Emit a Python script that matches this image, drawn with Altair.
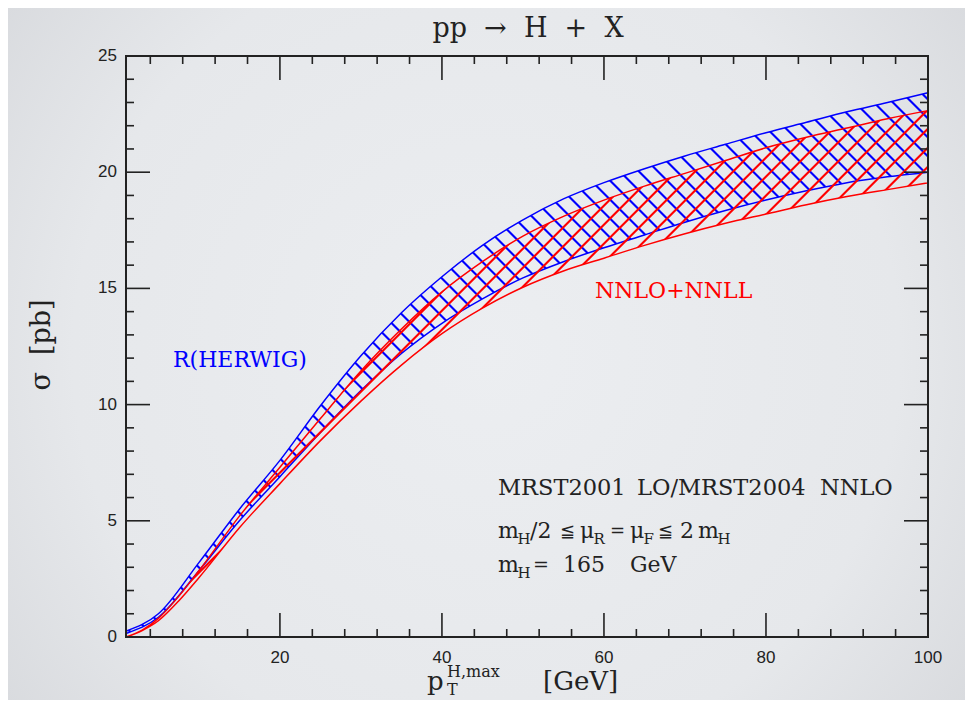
import altair as alt
import pandas as pd

# ---------------- data ----------------
x_herwig = [1, 5, 10, 15, 20, 25, 30, 35, 40, 45, 50, 55, 60, 65, 70, 75, 80, 85, 90, 95, 100]
herwig_hi = [0.25, 1.0, 3.2, 5.5, 7.6, 9.95, 12.1, 13.95, 15.5, 16.85, 17.95, 18.85, 19.55,
             20.15, 20.7, 21.2, 21.7, 22.15, 22.6, 23.0, 23.42]
herwig_lo = [0.15, 0.85, 2.85, 5.0, 6.9, 8.8, 10.6, 12.2, 13.5, 14.55, 15.45, 16.15, 16.75,
             17.3, 17.85, 18.35, 18.8, 19.2, 19.55, 19.8, 20.0]

x_nnll = [1, 3, 5, 7.5, 10, 15, 20, 25, 30, 35, 40, 45, 50, 55, 60, 65, 70, 75, 80, 85, 90, 95, 100]
nnll_hi = [0.0, 0.3, 0.8, 1.75, 2.85, 5.2, 7.3, 9.4, 11.45, 13.25, 14.85, 16.15, 17.25, 18.1,
           18.8, 19.4, 19.95, 20.5, 21.05, 21.5, 21.9, 22.3, 22.65]
nnll_lo = [0.0, 0.28, 0.7, 1.55, 2.55, 4.7, 6.6, 8.45, 10.15, 11.7, 13.05, 14.15, 15.05, 15.75,
           16.3, 16.85, 17.35, 17.8, 18.2, 18.6, 18.95, 19.25, 19.54]

x_tick_labels = [20, 40, 60, 80, 100]
y_tick_labels = [0, 5, 10, 15, 20, 25]
x_major = [20, 40, 60, 80]
x_minor = [v for v in range(4, 100, 4) if v % 20]
y_major = [5, 10, 15, 20]
y_minor = [v for v in range(1, 25) if v % 5]

# ---------------- layout ----------------
W, H = 802, 581
PAD = {"left": 118, "top": 48, "right": 37, "bottom": 63}
XDOM = [1, 100]
YDOM = [0, 25]
BLUE = "#0000ff"
RED = "#ff0000"
INK = "#222222"
SERIF = "DejaVu Serif"
SANS = "Liberation Sans"
SP = "\u00a0\u00a0"   # wide gap (plain spaces collapse in SVG text)

xs = alt.Scale(domain=XDOM, nice=False, zero=False)
ys = alt.Scale(domain=YDOM, nice=False, zero=False)


def hatch(color, clear, lo_vals, hi_vals, direction, period=19.0, full=1.0, soft=2.0, phase=6.0):
    """Linear gradient made of thin stripes at 45 degrees (pixel space)."""
    bw = float(W)
    bh = (max(hi_vals) - min(lo_vals)) * H / (YDOM[1] - YDOM[0])
    span = bw + bh
    k = span / (bw ** 2 + bh ** 2)
    if direction == "back":   # "\" stripes
        x1, y1, x2, y2 = 0.0, 1.0, k * bw, 1.0 - k * bh
    else:                     # "/" stripes
        x1, y1, x2, y2 = 0.0, 0.0, k * bw, k * bh
    stops = []
    c = phase
    while c - soft < span:
        for off, col in ((c - soft, clear), (c - full, color), (c + full, color), (c + soft, clear)):
            t = min(max(off / span, 0.0), 1.0)
            stops.append(alt.GradientStop(offset=t, color=col))
        c += period
    return alt.LinearGradient(gradient="linear", stops=stops, x1=x1, y1=y1, x2=x2, y2=y2)


one = pd.DataFrame({"k": [0]})

# background with a soft vignette
bg = alt.Chart(one).mark_rect(
    fill=alt.RadialGradient(
        gradient="radial", x1=0.5, y1=0.5, r1=0, x2=0.5, y2=0.5, r2=0.72,
        stops=[alt.GradientStop(offset=0, color="#eceef1"),
               alt.GradientStop(offset=0.6, color="#e6e8eb"),
               alt.GradientStop(offset=1, color="#d2d4d8")]),
).encode(x=alt.value(-PAD["left"]), x2=alt.value(W + PAD["right"]),
         y=alt.value(-PAD["top"]), y2=alt.value(H + PAD["bottom"]))

herwig_df = pd.DataFrame({"x": x_herwig, "hi": herwig_hi, "lo": herwig_lo})
nnll_df = pd.DataFrame({"x": x_nnll, "hi": nnll_hi, "lo": nnll_lo})

herwig = alt.Chart(herwig_df).mark_area(
    fill=hatch(BLUE, "rgba(0,0,255,0)", herwig_lo, herwig_hi, "back"),
    stroke=BLUE, strokeWidth=1.5, interpolate="monotone",
).encode(
    x=alt.X("x:Q", scale=xs, axis=None),
    y=alt.Y("hi:Q", scale=ys, axis=None),
    y2="lo:Q",
)

nnll = alt.Chart(nnll_df).mark_area(
    fill=hatch(RED, "rgba(255,0,0,0)", nnll_lo, nnll_hi, "fwd", phase=3.0),
    stroke=RED, strokeWidth=1.5, interpolate="monotone",
).encode(
    x=alt.X("x:Q", scale=xs, axis=None),
    y=alt.Y("hi:Q", scale=ys, axis=None),
    y2="lo:Q",
)


def xticks(vals, length):
    df = pd.DataFrame({"v": vals})
    base = alt.Chart(df).mark_rule(color=INK, strokeWidth=1.6)
    xe = alt.X("v:Q", scale=xs, axis=None)
    return [base.encode(x=xe, y=alt.value(H), y2=alt.value(H - length)),
            base.encode(x=xe, y=alt.value(0), y2=alt.value(length))]


def yticks(vals, length):
    df = pd.DataFrame({"v": vals})
    base = alt.Chart(df).mark_rule(color=INK, strokeWidth=1.6)
    ye = alt.Y("v:Q", scale=ys, axis=None)
    return [base.encode(y=ye, x=alt.value(0), x2=alt.value(length)),
            base.encode(y=ye, x=alt.value(W), x2=alt.value(W - length))]


ticks = xticks(x_minor, 8) + xticks(x_major, 24) + yticks(y_minor, 8) + yticks(y_major, 24)

# tick labels, placed through the scales
xlab = alt.Chart(pd.DataFrame({"v": x_tick_labels})).mark_text(
    font=SANS, fontSize=17, color=INK, align="center", baseline="alphabetic",
).encode(x=alt.X("v:Q", scale=xs, axis=None), y=alt.value(H + 26), text="v:Q")
ylab = alt.Chart(pd.DataFrame({"v": y_tick_labels})).mark_text(
    font=SANS, fontSize=17, color=INK, align="right", baseline="middle",
).encode(y=alt.Y("v:Q", scale=ys, axis=None), x=alt.value(-9), text="v:Q")

frame = alt.Chart(one).mark_rect(filled=False, stroke=INK, strokeWidth=2).encode(
    x=alt.value(0), x2=alt.value(W), y=alt.value(0), y2=alt.value(H))


def txt(s, x, y, size, color=INK, align="left", angle=0, font=SERIF):
    return alt.Chart(one).mark_text(
        text=s, font=font, fontSize=size, color=color, align=align,
        baseline="alphabetic", angle=angle,
    ).encode(x=alt.value(x), y=alt.value(y))


texts = [
    # title
    txt("pp" + SP + "→" + SP + "H" + SP + "+" + SP + "X", 402, -19, 27, align="center"),
    # y title
    txt("σ" + SP + "[pb]", -76, 289, 27, align="center", angle=270),
    # x title
    txt("p", 301, 634, 26),
    txt("T", 321, 639, 16),
    txt("H,max", 321, 621, 16),
    txt("[GeV]", 417, 634, 26),
    # curve labels
    txt("R(HERWIG)", 47, 311, 22, color=BLUE),
    txt("NNLO+NNLL", 469, 242, 22, color=RED),
    # info block
    txt("MRST2001", 372, 439, 22.5),
    txt("LO/MRST2004", 511, 439, 22.5),
    txt("NNLO", 694, 439, 22.5),
    txt("m", 372, 482, 22), txt("H", 391.5, 488, 15),
    txt("/2", 404, 482, 22), txt("≦", 434, 481, 18),
    txt("μ", 454, 482, 22), txt("R", 467.5, 488, 15),
    txt("=", 484, 481, 18),
    txt("μ", 504, 482, 22), txt("F", 517.5, 488, 15),
    txt("≦", 532, 481, 18), txt("2", 554, 482, 22),
    txt("m", 572, 482, 22), txt("H", 591.5, 488, 15),
    txt("m", 372, 516, 22), txt("H", 391.5, 522, 15),
    txt("=", 407, 515, 19), txt("165", 437, 516, 22), txt("GeV", 504, 516, 22),
]

chart = alt.layer(bg, herwig, nnll, *ticks, xlab, ylab, frame, *texts).properties(
    width=W, height=H,
    padding=PAD,
    autosize=alt.AutoSizeParams(type="none"),
    background="#e4e6ea",
).configure_view(stroke=None)

chart.save("out.html", embed_options={"renderer": "svg", "actions": False})
